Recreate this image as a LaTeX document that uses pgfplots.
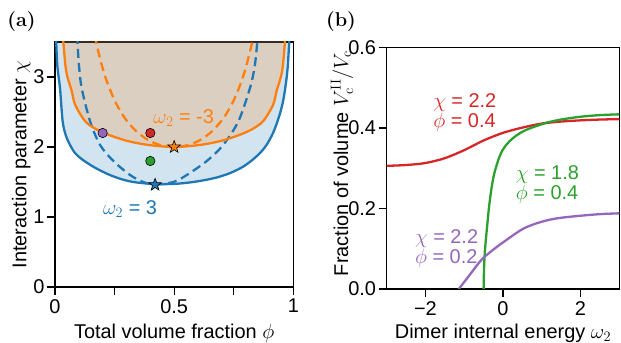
\documentclass[border=0pt]{standalone}
\usepackage{pgfplots}
\pgfplotsset{compat=1.18}
\usepackage[no-math]{fontspec}
\setmainfont{Liberation Sans}
\newfontfamily\lmr{Latin Modern Roman}
\definecolor{tblue}{HTML}{1F77B4}
\definecolor{torange}{HTML}{FF7F0E}
\definecolor{tgreen}{HTML}{2CA02C}
\definecolor{tred}{HTML}{D62728}
\definecolor{tpurple}{HTML}{9467BD}
\pgfdeclareplotmark{fstar}{%
\pgfpathmoveto{\pgfpointpolar{90}{\pgfplotmarksize}}%
\pgfpathlineto{\pgfpointpolar{126}{0.42\pgfplotmarksize}}%
\pgfpathlineto{\pgfpointpolar{162}{\pgfplotmarksize}}%
\pgfpathlineto{\pgfpointpolar{198}{0.42\pgfplotmarksize}}%
\pgfpathlineto{\pgfpointpolar{234}{\pgfplotmarksize}}%
\pgfpathlineto{\pgfpointpolar{270}{0.42\pgfplotmarksize}}%
\pgfpathlineto{\pgfpointpolar{306}{\pgfplotmarksize}}%
\pgfpathlineto{\pgfpointpolar{342}{0.42\pgfplotmarksize}}%
\pgfpathlineto{\pgfpointpolar{18}{\pgfplotmarksize}}%
\pgfpathlineto{\pgfpointpolar{54}{0.42\pgfplotmarksize}}%
\pgfpathclose
\pgfusepathqfillstroke}
\pgfplotsset{
  every axis/.append style={
    scale only axis, anchor=south west,
    tick align=outside, major tick length=8bp,
    axis line style={line width=1.2bp},
    every tick/.style={line width=1.2bp, black},
    xtick pos=bottom, ytick pos=left,
    /pgf/number format/assume math mode=true,
    tick label style={font=\fontsize{20}{23}\selectfont},
    xticklabel style={inner sep=3bp},
    yticklabel style={inner sep=1.5bp},
    label style={font=\fontsize{20}{23}\selectfont},
  }
}
\begin{document}
\fontsize{20}{23}\selectfont
\begin{tikzpicture}
\useasboundingbox (0bp,0bp) rectangle (621bp,343bp);
\node at (21.5bp,321bp) {\fontsize{20}{23}\selectfont\lmr\bfseries (a)};
\node at (341bp,321.5bp) {\fontsize{20}{23}\selectfont\lmr\bfseries (b)};
\begin{axis}[at={(55bp,56bp)}, width=238.3bp, height=245bp,
  xmin=0, xmax=1, ymin=0, ymax=3.5,
  xtick={0,0.25,0.5,0.75,1}, xticklabels={0,,0.5,,1},
  ytick={0,1,2,3},
  xlabel={Total volume fraction $\phi$},
  ylabel={Interaction parameter $\chi$},
  xlabel style={at={(axis description cs:0.5,-0.212)}, anchor=base},
  ylabel style={at={(axis description cs:-0.12,0.5)}, anchor=base},
  line width=2.3bp]
% blue region fill
\addplot[draw=none, fill=tblue, fill opacity=0.2, smooth] coordinates {
(0.003,3.6) (0.005,3.5) (0.010,3.15) (0.021,2.84) (0.032,2.37) (0.045,2.17) (0.063,2.03) (0.085,1.91) (0.119,1.81) (0.165,1.71) (0.217,1.62) (0.27,1.55) (0.329,1.50) (0.42,1.47) (0.51,1.475) (0.58,1.50) (0.64,1.535) (0.69,1.575) (0.74,1.635) (0.79,1.72) (0.83,1.82) (0.862,1.92) (0.888,2.03) (0.915,2.20) (0.937,2.40) (0.955,2.62) (0.967,2.86) (0.976,3.12) (0.983,3.5) (0.985,3.6)} -- cycle;
% orange region fill
\addplot[draw=none, fill=torange, fill opacity=0.2, smooth] coordinates {
(0.032,3.6) (0.035,3.5) (0.047,3.08) (0.07,2.80) (0.085,2.60) (0.126,2.37) (0.17,2.26) (0.22,2.18) (0.30,2.09) (0.39,2.03) (0.5,2.0) (0.61,2.03) (0.70,2.09) (0.78,2.18) (0.83,2.26) (0.874,2.37) (0.915,2.60) (0.93,2.80) (0.953,3.08) (0.965,3.5) (0.968,3.6)} -- cycle;
% blue solid
\addplot[tblue, smooth] coordinates {
(0.003,3.6) (0.005,3.5) (0.010,3.15) (0.021,2.84) (0.032,2.37) (0.045,2.17) (0.063,2.03) (0.085,1.91) (0.119,1.81) (0.165,1.71) (0.217,1.62) (0.27,1.55) (0.329,1.50) (0.42,1.47) (0.51,1.475) (0.58,1.50) (0.64,1.535) (0.69,1.575) (0.74,1.635) (0.79,1.72) (0.83,1.82) (0.862,1.92) (0.888,2.03) (0.915,2.20) (0.937,2.40) (0.955,2.62) (0.967,2.86) (0.976,3.12) (0.983,3.5) (0.985,3.6)};
% blue dashed
\addplot[tblue, smooth, dash pattern=on 9bp off 5bp] coordinates {
(0.092,3.6) (0.094,3.5) (0.101,3.15) (0.112,2.84) (0.147,2.37) (0.189,2.03) (0.245,1.80) (0.315,1.60) (0.37,1.50) (0.42,1.465) (0.497,1.50) (0.553,1.60) (0.637,1.80) (0.706,2.03) (0.77,2.37) (0.818,2.84) (0.838,3.15) (0.849,3.5) (0.851,3.6)};
% orange solid
\addplot[torange, smooth] coordinates {
(0.032,3.6) (0.035,3.5) (0.047,3.08) (0.07,2.80) (0.085,2.60) (0.126,2.37) (0.17,2.26) (0.22,2.18) (0.30,2.09) (0.39,2.03) (0.5,2.0) (0.61,2.03) (0.70,2.09) (0.78,2.18) (0.83,2.26) (0.874,2.37) (0.915,2.60) (0.93,2.80) (0.953,3.08) (0.965,3.5) (0.968,3.6)};
% orange dashed
\addplot[torange, smooth, dash pattern=on 9bp off 5bp] coordinates {
(0.168,3.6) (0.17,3.544) (0.18,3.388) (0.20,3.125) (0.22,2.914) (0.25,2.667) (0.28,2.480) (0.30,2.381) (0.33,2.261) (0.35,2.198) (0.38,2.122) (0.40,2.083) (0.43,2.040) (0.45,2.020) (0.50,2.000) (0.55,2.020) (0.57,2.040) (0.60,2.083) (0.62,2.122) (0.65,2.198) (0.67,2.261) (0.70,2.381) (0.72,2.480) (0.75,2.667) (0.78,2.914) (0.80,3.125) (0.82,3.388) (0.83,3.544) (0.832,3.6)};
% points
\addplot[only marks, mark=*, mark size=4.7bp, mark options={fill=tpurple, draw=black, line width=0.6bp}] coordinates {(0.2,2.2)};
\addplot[only marks, mark=*, mark size=4.7bp, mark options={fill=tred, draw=black, line width=0.6bp}] coordinates {(0.4,2.2)};
\addplot[only marks, mark=*, mark size=4.7bp, mark options={fill=tgreen, draw=black, line width=0.6bp}] coordinates {(0.4,1.8)};
\addplot[only marks, mark=fstar, mark size=6.5bp, mark options={fill=torange, draw=black, line width=0.6bp}] coordinates {(0.5,2.0)};
\addplot[only marks, mark=fstar, mark size=6.5bp, mark options={fill=tblue, draw=black, line width=0.6bp}] coordinates {(0.42,1.46)};
\node[text=torange] at (axis cs:0.54,2.41) {$\omega_2$ = -3};
\node[text=tblue] at (axis cs:0.315,1.11) {$\omega_2$ = 3};
\end{axis}
\begin{axis}[at={(386.7bp,54bp)}, width=232.6bp, height=241.5bp,
  xmin=-3, xmax=3, ymin=0, ymax=0.6,
  xtick={-2,0,2}, xticklabels={−2,0,2},
  ytick={0,0.2,0.4,0.6}, yticklabels={0.0,0.2,0.4,0.6},
  xlabel={Dimer internal energy $\omega_2$},
  ylabel={Fraction of volume $V_{\rm c}^{\rm II}/V_{\rm c}$},
  xlabel style={at={(axis description cs:0.5,-0.203)}, anchor=base},
  ylabel style={at={(axis description cs:-0.166,0.52)}, anchor=base},
  line width=2.3bp]
\addplot[tred, smooth] coordinates {
(-3,0.306) (-2.5,0.308) (-2,0.313) (-1.5,0.325) (-1,0.345) (-0.5,0.369) (0,0.388) (0.5,0.401) (1,0.411) (1.5,0.416) (2,0.419) (2.5,0.421) (3,0.422)};
\addplot[tgreen, smooth] coordinates {
(-0.50,0) (-0.495,0.03) (-0.485,0.06) (-0.47,0.09) (-0.44,0.125) (-0.40,0.165) (-0.36,0.204) (-0.30,0.248) (-0.23,0.285) (-0.14,0.315) (-0.04,0.340) (0.1,0.360) (0.26,0.375) (0.45,0.388) (0.69,0.399) (1.12,0.413) (1.5,0.421) (2,0.428) (2.5,0.432) (3,0.434)};
\addplot[tpurple, smooth] coordinates {
(-1.14,0) (-0.86,0.035) (-0.56,0.072) (-0.3,0.094) (-0.04,0.113) (0.47,0.147) (0.8,0.161) (1.15,0.171) (1.5,0.177) (2,0.182) (2.5,0.186) (3,0.188)};
\node[text=tred, anchor=west, align=left] at (axis cs:-2.0,0.438) {$\chi$ = 2.2\\[-3bp]$\phi$ = 0.4};
\node[text=tgreen, anchor=west, align=left] at (axis cs:0.13,0.260) {$\chi$ = 1.8\\[-3bp]$\phi$ = 0.4};
\node[text=tpurple, anchor=west, align=left] at (axis cs:-2.47,0.100) {$\chi$ = 2.2\\[-3bp]$\phi$ = 0.2};
\end{axis}
\end{tikzpicture}
\end{document}
